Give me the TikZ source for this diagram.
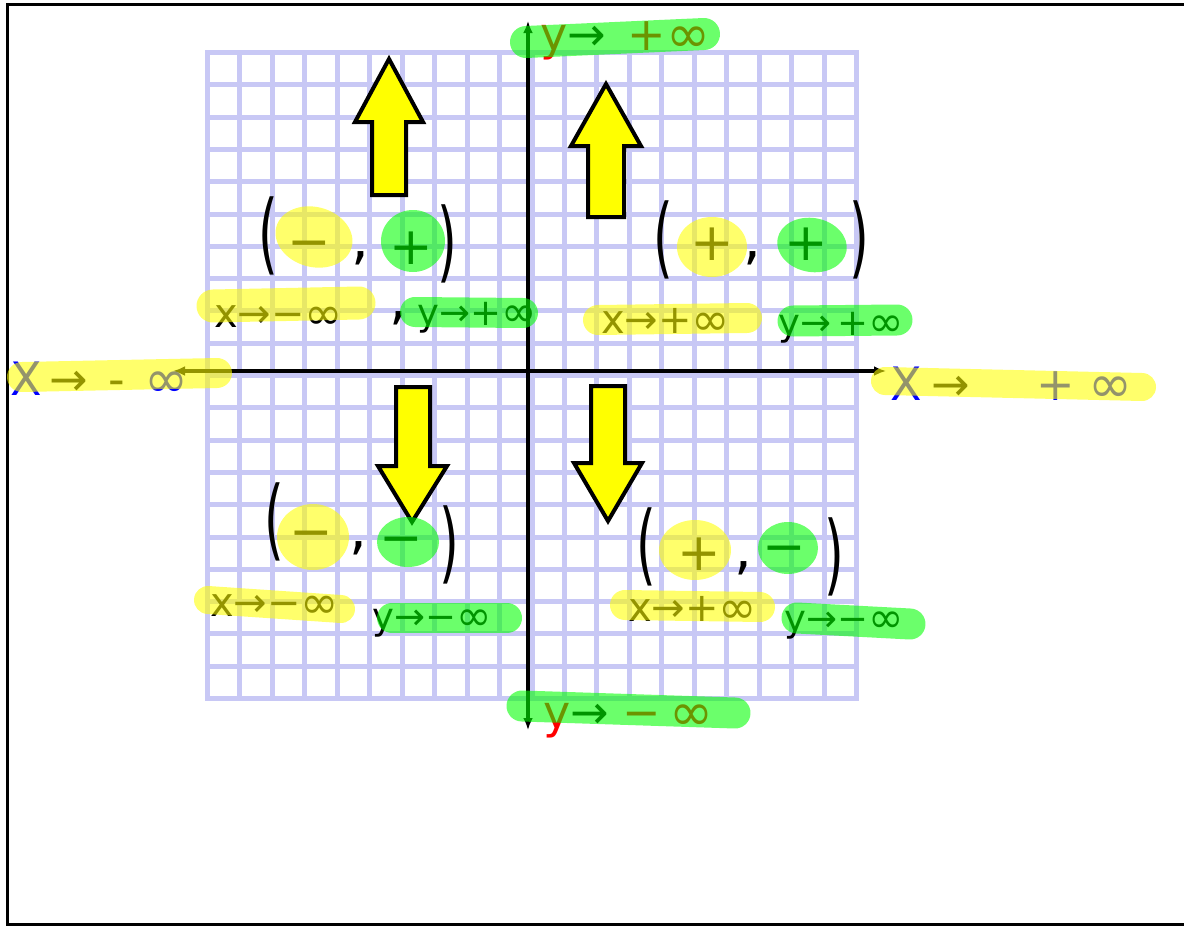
\documentclass[tikz,border=0pt]{standalone}
\usepackage{fontspec}
\usepackage{graphicx}
\setmainfont{DejaVu Sans}
\usetikzlibrary{arrows.meta}
\definecolor{gridc}{RGB}{200,200,245}
\definecolor{hly}{RGB}{255,255,0}
\definecolor{hlg}{RGB}{0,255,0}
\definecolor{inkred}{RGB}{255,0,0}
\definecolor{inkblue}{RGB}{0,0,255}
\tikzset{
 gridline/.style={draw=gridc,line width=5pt,line cap=rect},
 axisline/.style={draw=black,line width=3.5pt,{Latex[length=12pt,width=10pt]}-{Latex[length=12pt,width=10pt]}},
 frameline/.style={draw=black,line width=3pt},
 blockarrow/.style={draw=black,fill=hly,line width=4pt,line join=miter},
 hlyel/.style={draw=hly,line width=30pt,line cap=round,draw opacity=.58},
 hlgrn/.style={draw=hlg,line width=30pt,line cap=round,draw opacity=.58},
 blobyel/.style={fill=hly,fill opacity=.58},
 blobgrn/.style={fill=hlg,fill opacity=.58},
 qlabel/.style={inner sep=0pt,anchor=base west,font=\fontsize{40}{44}\selectfont},
 qlabelsm/.style={inner sep=0pt,anchor=base west,font=\fontsize{37}{40}\selectfont},
 axlabel/.style={inner sep=0pt,anchor=base west,font=\fontsize{46}{50}\selectfont},
 sign/.style={inner sep=0pt,anchor=base,font=\fontsize{52}{56}\selectfont},
 paren/.style={inner sep=0pt,font=\fontsize{44}{48}\selectfont},
 commamark/.style={inner sep=0pt,font=\fontsize{56}{60}\selectfont},
}
\newcommand{\tallparen}[1]{\scalebox{1.15}[2.0]{#1}}
\newcommand{\infy}{\raisebox{-0.05em}{\scalebox{1.15}{∞}}}
\begin{document}
\begin{tikzpicture}[x=1pt,y=-1pt]
\useasboundingbox (0,0) rectangle (1184,926);
% frame
\coordinate (f1) at (1184,4);
\coordinate (f2) at (7,4);
\coordinate (f3) at (7,924);
\coordinate (f4) at (1184,924);
\draw[frameline] (f1) -- (f2) -- (f3) -- (f4);
% grid
\foreach \i in {0,...,20} {
  \draw[gridline] ({207.5+32.45*\i},52.5) -- ({207.5+32.45*\i},698.5);
  \draw[gridline] (207.5,{52.5+32.3*\i}) -- (856.5,{52.5+32.3*\i});
}
% axes
\coordinate (ytop) at (528,21);
\coordinate (ybot) at (528,730);
\coordinate (xleft) at (173,371);
\coordinate (xright) at (886,371);
\draw[axisline] (ybot) -- (ytop);
\draw[axisline] (xleft) -- (xright);
% block arrows
\draw[blockarrow] (372,195) -- (372,122) -- (355,122) -- (389,59) -- (423,122) -- (406,122) -- (406,195) -- cycle;
\draw[blockarrow] (588,217) -- (588,146) -- (571,146) -- (606,84) -- (641,146) -- (624,146) -- (624,217) -- cycle;
\draw[blockarrow] (396,387) -- (396,466) -- (378,466) -- (412,522) -- (447,466) -- (430,466) -- (430,387) -- cycle;
\draw[blockarrow] (591,386) -- (591,463) -- (574,463) -- (608,521) -- (642,463) -- (625,463) -- (625,386) -- cycle;
% ---- Q2 (-,+)
\node[paren] (q2lp) at (268,236) {\tallparen{(}};
\node[sign] (q2s1) at (309,259) {−};
\node[commamark] (q2c) at (360,258) {,};
\node[sign] (q2s2) at (411,264) {+};
\node[paren] (q2rp) at (447,244) {\tallparen{)}};
\node[qlabel] (q2x) at (214,327) {x→−\infy};
\node[commamark] (q2c2) at (398,318) {,};
\node[qlabelsm] (q2y) at (417,325) {y→+\infy};
% ---- Q1 (+,+)
\node[paren] (q1lp) at (663,240) {\tallparen{(}};
\node[sign] (q1s1) at (712,260) {+};
\node[commamark] (q1c) at (752,258) {,};
\node[sign] (q1s2) at (806,260) {+};
\node[paren] (q1rp) at (859,240) {\tallparen{)}};
\node[qlabel] (q1x) at (601,333) {x→+\infy};
\node[qlabelsm] (q1y) at (778,335) {y→\hspace{6pt}+\infy};
% ---- Q3 (-,-)
\node[sign] (q3s1) at (311,549) {−};
\node[paren] (q3lp) at (274,522) {\tallparen{(}};
\node[commamark] (q3c) at (358,548) {,};
\node[sign] (q3s2) at (401,555) {−};
\node[paren] (q3rp) at (449,545) {\tallparen{)}};
\node[qlabel] (q3x) at (210,616) {x→−\infy};
\node[qlabelsm] (q3y) at (372,629) {y→−\infy};
% ---- Q4 (+,-)
\node[paren] (q4lp) at (646,547) {\tallparen{(}};
\node[sign] (q4s1) at (699,570) {+};
\node[commamark] (q4c) at (743,568) {,};
\node[sign] (q4s2) at (784,564) {−};
\node[paren] (q4rp) at (834,557) {\tallparen{)}};
\node[qlabel] (q4x) at (628,621) {x→+\infy};
\node[qlabelsm] (q4y) at (784,631) {y→−\infy};
% ---- axis labels
\node[axlabel] (lxl) at (10,395) {\textcolor{inkblue}{X}\hspace{8pt}→\hspace{20pt}-\hspace{20pt}\textcolor{inkblue}{\infy}};
\node[axlabel] (rxl) at (890,400) {\textcolor{inkblue}{X}\hspace{10pt}→\hspace{66pt}\textcolor{inkblue}{+\hspace{14pt}\infy}};
\node[axlabel] (tyl) at (540,50) {\textcolor{inkred}{y}→\hspace{22pt}\textcolor{inkred}{+\infy}};
\node[axlabel] (byl) at (543,728) {\textcolor{inkred}{y}→\hspace{14pt}\textcolor{inkred}{−\hspace{8pt}\infy}};
% ---- highlighter blobs
\fill[blobyel,rotate around={-15:(314,237)}] (314,237) ellipse [x radius=39,y radius=30];
\fill[blobgrn] (413,241) ellipse [x radius=32,y radius=31];
\fill[blobyel] (712,247) ellipse [x radius=35,y radius=30];
\fill[blobgrn,rotate around={-10:(812,245)}] (812,245) ellipse [x radius=35,y radius=27];
\fill[blobyel] (313,537) ellipse [x radius=36,y radius=33];
\fill[blobgrn] (408,542) ellipse [x radius=31,y radius=25];
\fill[blobyel] (695,550) ellipse [x radius=36,y radius=30];
\fill[blobgrn] (788,548) ellipse [x radius=30,y radius=26];
% ---- highlighter strokes
\coordinate (h1a) at (213,306); \coordinate (h1b) at (359,303);
\draw[hlyel,line width=33pt] (h1a) -- (h1b);
\coordinate (h2a) at (415,312); \coordinate (h2b) at (523,313);
\draw[hlgrn] (h2a) -- (h2b);
\coordinate (h3a) at (598,320); \coordinate (h3b) at (747,318);
\draw[hlyel] (h3a) -- (h3b);
\coordinate (h4a) at (793,321); \coordinate (h4b) at (897,320);
\draw[hlgrn,line width=31pt] (h4a) -- (h4b);
\coordinate (h5a) at (208,600); \coordinate (h5b) at (341,609);
\draw[hlyel,line width=28pt] (h5a) -- (h5b);
\coordinate (h6a) at (392,618); \coordinate (h6b) at (507,618);
\draw[hlgrn] (h6a) -- (h6b);
\coordinate (h7a) at (625,605); \coordinate (h7b) at (760,607);
\draw[hlyel] (h7a) -- (h7b);
\coordinate (h8a) at (797,618); \coordinate (h8b) at (910,624);
\draw[hlgrn,line width=31pt] (h8a) -- (h8b);
\coordinate (h9a) at (22,377); \coordinate (h9b) at (217,373);
\draw[hlyel] (h9a) -- (h9b);
\coordinate (h10a) at (885,381); \coordinate (h10b) at (1142,387);
\draw[hlyel,line width=28pt] (h10a) -- (h10b);
\coordinate (h11a) at (526,42); \coordinate (h11b) at (704,34);
\draw[hlgrn,line width=32pt] (h11a) -- (h11b);
\coordinate (h12a) at (522,706); \coordinate (h12b) at (735,713);
\draw[hlgrn,line width=31pt] (h12a) -- (h12b);
\end{tikzpicture}
\end{document}
